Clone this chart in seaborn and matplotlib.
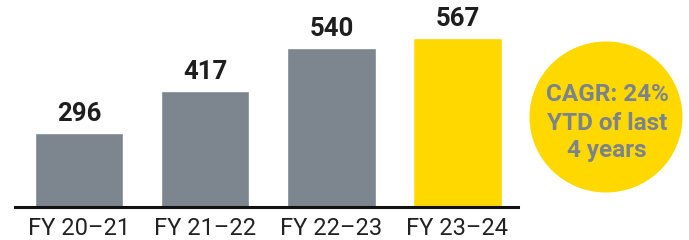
import matplotlib
matplotlib.use("Agg")
import matplotlib.pyplot as plt
import seaborn as sns
import pandas as pd
from matplotlib.patches import Ellipse

categories = ["FY 20\u201321", "FY 21\u201322", "FY 22\u201323", "FY 23\u201324"]
values = [296, 417, 540, 567]
bar_colors = ["#7d858e", "#7d858e", "#7d858e", "#ffd800"]
note_lines = ["CAGR: 24%", "YTD of last", "4 years"]

sns.set_theme(style="white")
plt.rcParams["font.family"] = ["Roboto", "DejaVu Sans"]

df = pd.DataFrame({"period": categories, "value": values})

fig = plt.figure(figsize=(6.89, 2.40), dpi=100)
ax = fig.add_axes([15 / 689, 33 / 240, (518 - 15) / 689, 207 / 240])

sns.barplot(data=df, x="period", y="value", hue="period", palette=bar_colors,
            legend=False, width=0.70, saturation=1, ax=ax)

ax.set_ylim(85, 676)
ax.set_xlim(-0.51, 3.48)

for i, v in enumerate(values):
    ax.annotate(str(v), xy=(i, v), xytext=(0, 5), textcoords="offset points",
                ha="center", va="bottom", fontsize=18.5, fontweight="bold",
                color="#1e1e1e")

for s in ["top", "right", "left"]:
    ax.spines[s].set_visible(False)
ax.spines["bottom"].set_color("#111111")
ax.spines["bottom"].set_linewidth(2.2)
ax.set_yticks([])
ax.set_xlabel("")
ax.set_ylabel("")
ax.tick_params(axis="x", length=0, pad=7, labelsize=17, labelcolor="#222222")

# yellow badge
ell = Ellipse((606 / 689, 1 - 117 / 240), 153 / 689, 151 / 240,
              transform=fig.transFigure, facecolor="#ffd800", edgecolor="none")
fig.patches.append(ell)
ys = [95, 124, 151]
for txt, yy in zip(note_lines, ys):
    fig.text(607 / 689, 1 - yy / 240, txt, ha="center", va="center",
             fontsize=17.5, fontweight="semibold", color="#7b838c")

fig.savefig("out.png", dpi=100)
